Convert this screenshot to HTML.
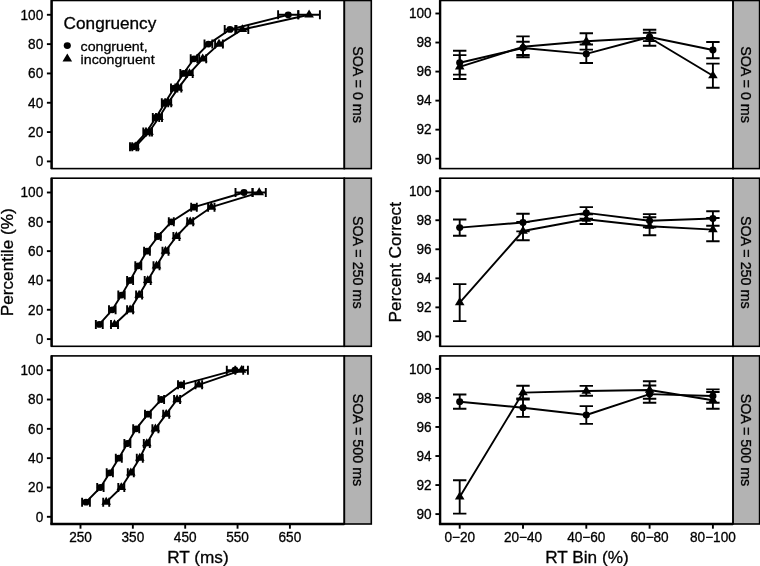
<!DOCTYPE html>
<html><head><meta charset="utf-8"><title>Congruency RT figure</title>
<style>
html,body{margin:0;padding:0;background:#fff;}
body{width:760px;height:566px;overflow:hidden;}
svg{display:block;font-family:"Liberation Sans", sans-serif;}
text{fill:#000;stroke:#000;stroke-width:0.3px;}
#w{filter:grayscale(100%);width:760px;height:566px;}
</style></head><body><div id="w">
<svg width="760" height="566" viewBox="0 0 760 566">
<rect x="0" y="0" width="760" height="566" fill="#fff"/>
<rect x="344.30" y="0.50" width="27.00" height="168.10" fill="#b3b3b3" stroke="#000" stroke-width="1.6"/>
<rect x="51.60" y="0.50" width="292.70" height="168.10" fill="none" stroke="#000" stroke-width="1.6"/>
<line x1="51.60" y1="0.10" x2="51.60" y2="169.00" stroke="#000" stroke-width="2.4"/>
<text transform="translate(352.80,84.55) rotate(90) scale(1,1.0)" font-size="14.3" text-anchor="middle">SOA = 0 ms</text>
<rect x="733.00" y="0.50" width="26.60" height="168.10" fill="#b3b3b3" stroke="#000" stroke-width="1.6"/>
<rect x="440.10" y="0.50" width="292.90" height="168.10" fill="none" stroke="#000" stroke-width="1.6"/>
<line x1="440.10" y1="0.10" x2="440.10" y2="169.00" stroke="#000" stroke-width="2.4"/>
<text transform="translate(741.30,84.55) rotate(90) scale(1,1.0)" font-size="14.3" text-anchor="middle">SOA = 0 ms</text>
<rect x="344.30" y="178.20" width="27.00" height="168.10" fill="#b3b3b3" stroke="#000" stroke-width="1.6"/>
<rect x="51.60" y="178.20" width="292.70" height="168.10" fill="none" stroke="#000" stroke-width="1.6"/>
<line x1="51.60" y1="177.80" x2="51.60" y2="346.70" stroke="#000" stroke-width="2.4"/>
<text transform="translate(352.80,262.25) rotate(90) scale(1,1.0)" font-size="14.3" text-anchor="middle">SOA = 250 ms</text>
<rect x="733.00" y="178.20" width="26.60" height="168.10" fill="#b3b3b3" stroke="#000" stroke-width="1.6"/>
<rect x="440.10" y="178.20" width="292.90" height="168.10" fill="none" stroke="#000" stroke-width="1.6"/>
<line x1="440.10" y1="177.80" x2="440.10" y2="346.70" stroke="#000" stroke-width="2.4"/>
<text transform="translate(741.30,262.25) rotate(90) scale(1,1.0)" font-size="14.3" text-anchor="middle">SOA = 250 ms</text>
<rect x="344.30" y="355.90" width="27.00" height="168.10" fill="#b3b3b3" stroke="#000" stroke-width="1.6"/>
<rect x="51.60" y="355.90" width="292.70" height="168.10" fill="none" stroke="#000" stroke-width="1.6"/>
<line x1="51.60" y1="355.50" x2="51.60" y2="524.40" stroke="#000" stroke-width="2.4"/>
<text transform="translate(352.80,439.95) rotate(90) scale(1,1.0)" font-size="14.3" text-anchor="middle">SOA = 500 ms</text>
<rect x="733.00" y="355.90" width="26.60" height="168.10" fill="#b3b3b3" stroke="#000" stroke-width="1.6"/>
<rect x="440.10" y="355.90" width="292.90" height="168.10" fill="none" stroke="#000" stroke-width="1.6"/>
<line x1="440.10" y1="355.50" x2="440.10" y2="524.40" stroke="#000" stroke-width="2.4"/>
<text transform="translate(741.30,439.95) rotate(90) scale(1,1.0)" font-size="14.3" text-anchor="middle">SOA = 500 ms</text>
<line x1="50.40" y1="524.00" x2="344.30" y2="524.00" stroke="#000" stroke-width="2.4"/>
<line x1="438.90" y1="524.00" x2="733.00" y2="524.00" stroke="#000" stroke-width="2.4"/>
<line x1="46.90" y1="161.40" x2="51.60" y2="161.40" stroke="#000" stroke-width="1.9"/>
<text transform="translate(43.20,166.20) scale(1,1.04)" font-size="13.6" text-anchor="end">0</text>
<line x1="46.90" y1="132.08" x2="51.60" y2="132.08" stroke="#000" stroke-width="1.9"/>
<text transform="translate(43.20,136.88) scale(1,1.04)" font-size="13.6" text-anchor="end">20</text>
<line x1="46.90" y1="102.76" x2="51.60" y2="102.76" stroke="#000" stroke-width="1.9"/>
<text transform="translate(43.20,107.56) scale(1,1.04)" font-size="13.6" text-anchor="end">40</text>
<line x1="46.90" y1="73.44" x2="51.60" y2="73.44" stroke="#000" stroke-width="1.9"/>
<text transform="translate(43.20,78.24) scale(1,1.04)" font-size="13.6" text-anchor="end">60</text>
<line x1="46.90" y1="44.12" x2="51.60" y2="44.12" stroke="#000" stroke-width="1.9"/>
<text transform="translate(43.20,48.92) scale(1,1.04)" font-size="13.6" text-anchor="end">80</text>
<line x1="46.90" y1="14.80" x2="51.60" y2="14.80" stroke="#000" stroke-width="1.9"/>
<text transform="translate(43.20,19.60) scale(1,1.04)" font-size="13.6" text-anchor="end">100</text>
<line x1="435.40" y1="158.70" x2="440.10" y2="158.70" stroke="#000" stroke-width="1.9"/>
<text transform="translate(431.60,163.50) scale(1,1.04)" font-size="13.6" text-anchor="end">90</text>
<line x1="435.40" y1="129.66" x2="440.10" y2="129.66" stroke="#000" stroke-width="1.9"/>
<text transform="translate(431.60,134.46) scale(1,1.04)" font-size="13.6" text-anchor="end">92</text>
<line x1="435.40" y1="100.62" x2="440.10" y2="100.62" stroke="#000" stroke-width="1.9"/>
<text transform="translate(431.60,105.42) scale(1,1.04)" font-size="13.6" text-anchor="end">94</text>
<line x1="435.40" y1="71.58" x2="440.10" y2="71.58" stroke="#000" stroke-width="1.9"/>
<text transform="translate(431.60,76.38) scale(1,1.04)" font-size="13.6" text-anchor="end">96</text>
<line x1="435.40" y1="42.54" x2="440.10" y2="42.54" stroke="#000" stroke-width="1.9"/>
<text transform="translate(431.60,47.34) scale(1,1.04)" font-size="13.6" text-anchor="end">98</text>
<line x1="435.40" y1="13.50" x2="440.10" y2="13.50" stroke="#000" stroke-width="1.9"/>
<text transform="translate(431.60,18.30) scale(1,1.04)" font-size="13.6" text-anchor="end">100</text>
<line x1="46.90" y1="339.10" x2="51.60" y2="339.10" stroke="#000" stroke-width="1.9"/>
<text transform="translate(43.20,343.90) scale(1,1.04)" font-size="13.6" text-anchor="end">0</text>
<line x1="46.90" y1="309.78" x2="51.60" y2="309.78" stroke="#000" stroke-width="1.9"/>
<text transform="translate(43.20,314.58) scale(1,1.04)" font-size="13.6" text-anchor="end">20</text>
<line x1="46.90" y1="280.46" x2="51.60" y2="280.46" stroke="#000" stroke-width="1.9"/>
<text transform="translate(43.20,285.26) scale(1,1.04)" font-size="13.6" text-anchor="end">40</text>
<line x1="46.90" y1="251.14" x2="51.60" y2="251.14" stroke="#000" stroke-width="1.9"/>
<text transform="translate(43.20,255.94) scale(1,1.04)" font-size="13.6" text-anchor="end">60</text>
<line x1="46.90" y1="221.82" x2="51.60" y2="221.82" stroke="#000" stroke-width="1.9"/>
<text transform="translate(43.20,226.62) scale(1,1.04)" font-size="13.6" text-anchor="end">80</text>
<line x1="46.90" y1="192.50" x2="51.60" y2="192.50" stroke="#000" stroke-width="1.9"/>
<text transform="translate(43.20,197.30) scale(1,1.04)" font-size="13.6" text-anchor="end">100</text>
<line x1="435.40" y1="336.40" x2="440.10" y2="336.40" stroke="#000" stroke-width="1.9"/>
<text transform="translate(431.60,341.20) scale(1,1.04)" font-size="13.6" text-anchor="end">90</text>
<line x1="435.40" y1="307.36" x2="440.10" y2="307.36" stroke="#000" stroke-width="1.9"/>
<text transform="translate(431.60,312.16) scale(1,1.04)" font-size="13.6" text-anchor="end">92</text>
<line x1="435.40" y1="278.32" x2="440.10" y2="278.32" stroke="#000" stroke-width="1.9"/>
<text transform="translate(431.60,283.12) scale(1,1.04)" font-size="13.6" text-anchor="end">94</text>
<line x1="435.40" y1="249.28" x2="440.10" y2="249.28" stroke="#000" stroke-width="1.9"/>
<text transform="translate(431.60,254.08) scale(1,1.04)" font-size="13.6" text-anchor="end">96</text>
<line x1="435.40" y1="220.24" x2="440.10" y2="220.24" stroke="#000" stroke-width="1.9"/>
<text transform="translate(431.60,225.04) scale(1,1.04)" font-size="13.6" text-anchor="end">98</text>
<line x1="435.40" y1="191.20" x2="440.10" y2="191.20" stroke="#000" stroke-width="1.9"/>
<text transform="translate(431.60,196.00) scale(1,1.04)" font-size="13.6" text-anchor="end">100</text>
<line x1="46.90" y1="516.80" x2="51.60" y2="516.80" stroke="#000" stroke-width="1.9"/>
<text transform="translate(43.20,521.60) scale(1,1.04)" font-size="13.6" text-anchor="end">0</text>
<line x1="46.90" y1="487.48" x2="51.60" y2="487.48" stroke="#000" stroke-width="1.9"/>
<text transform="translate(43.20,492.28) scale(1,1.04)" font-size="13.6" text-anchor="end">20</text>
<line x1="46.90" y1="458.16" x2="51.60" y2="458.16" stroke="#000" stroke-width="1.9"/>
<text transform="translate(43.20,462.96) scale(1,1.04)" font-size="13.6" text-anchor="end">40</text>
<line x1="46.90" y1="428.84" x2="51.60" y2="428.84" stroke="#000" stroke-width="1.9"/>
<text transform="translate(43.20,433.64) scale(1,1.04)" font-size="13.6" text-anchor="end">60</text>
<line x1="46.90" y1="399.52" x2="51.60" y2="399.52" stroke="#000" stroke-width="1.9"/>
<text transform="translate(43.20,404.32) scale(1,1.04)" font-size="13.6" text-anchor="end">80</text>
<line x1="46.90" y1="370.20" x2="51.60" y2="370.20" stroke="#000" stroke-width="1.9"/>
<text transform="translate(43.20,375.00) scale(1,1.04)" font-size="13.6" text-anchor="end">100</text>
<line x1="435.40" y1="514.10" x2="440.10" y2="514.10" stroke="#000" stroke-width="1.9"/>
<text transform="translate(431.60,518.90) scale(1,1.04)" font-size="13.6" text-anchor="end">90</text>
<line x1="435.40" y1="485.06" x2="440.10" y2="485.06" stroke="#000" stroke-width="1.9"/>
<text transform="translate(431.60,489.86) scale(1,1.04)" font-size="13.6" text-anchor="end">92</text>
<line x1="435.40" y1="456.02" x2="440.10" y2="456.02" stroke="#000" stroke-width="1.9"/>
<text transform="translate(431.60,460.82) scale(1,1.04)" font-size="13.6" text-anchor="end">94</text>
<line x1="435.40" y1="426.98" x2="440.10" y2="426.98" stroke="#000" stroke-width="1.9"/>
<text transform="translate(431.60,431.78) scale(1,1.04)" font-size="13.6" text-anchor="end">96</text>
<line x1="435.40" y1="397.94" x2="440.10" y2="397.94" stroke="#000" stroke-width="1.9"/>
<text transform="translate(431.60,402.74) scale(1,1.04)" font-size="13.6" text-anchor="end">98</text>
<line x1="435.40" y1="368.90" x2="440.10" y2="368.90" stroke="#000" stroke-width="1.9"/>
<text transform="translate(431.60,373.70) scale(1,1.04)" font-size="13.6" text-anchor="end">100</text>
<line x1="80.50" y1="524.00" x2="80.50" y2="528.70" stroke="#000" stroke-width="1.9"/>
<text transform="translate(80.50,542.30) scale(1,1.04)" font-size="13.6" text-anchor="middle">250</text>
<line x1="132.85" y1="524.00" x2="132.85" y2="528.70" stroke="#000" stroke-width="1.9"/>
<text transform="translate(132.85,542.30) scale(1,1.04)" font-size="13.6" text-anchor="middle">350</text>
<line x1="185.20" y1="524.00" x2="185.20" y2="528.70" stroke="#000" stroke-width="1.9"/>
<text transform="translate(185.20,542.30) scale(1,1.04)" font-size="13.6" text-anchor="middle">450</text>
<line x1="237.55" y1="524.00" x2="237.55" y2="528.70" stroke="#000" stroke-width="1.9"/>
<text transform="translate(237.55,542.30) scale(1,1.04)" font-size="13.6" text-anchor="middle">550</text>
<line x1="289.90" y1="524.00" x2="289.90" y2="528.70" stroke="#000" stroke-width="1.9"/>
<text transform="translate(289.90,542.30) scale(1,1.04)" font-size="13.6" text-anchor="middle">650</text>
<line x1="459.70" y1="524.00" x2="459.70" y2="528.70" stroke="#000" stroke-width="1.9"/>
<text transform="translate(459.70,542.30) scale(1,1.04)" font-size="13.6" text-anchor="middle">0−20</text>
<line x1="523.00" y1="524.00" x2="523.00" y2="528.70" stroke="#000" stroke-width="1.9"/>
<text transform="translate(523.00,542.30) scale(1,1.04)" font-size="13.6" text-anchor="middle">20−40</text>
<line x1="586.30" y1="524.00" x2="586.30" y2="528.70" stroke="#000" stroke-width="1.9"/>
<text transform="translate(586.30,542.30) scale(1,1.04)" font-size="13.6" text-anchor="middle">40−60</text>
<line x1="649.60" y1="524.00" x2="649.60" y2="528.70" stroke="#000" stroke-width="1.9"/>
<text transform="translate(649.60,542.30) scale(1,1.04)" font-size="13.6" text-anchor="middle">60−80</text>
<line x1="712.90" y1="524.00" x2="712.90" y2="528.70" stroke="#000" stroke-width="1.9"/>
<text transform="translate(712.90,542.30) scale(1,1.04)" font-size="13.6" text-anchor="middle">80−100</text>
<text transform="translate(197.95,562.50) scale(1,1.0)" font-size="17.2" text-anchor="middle">RT (ms)</text>
<text transform="translate(586.95,562.50) scale(1,1.0)" font-size="17.2" text-anchor="middle">RT Bin (%)</text>
<text transform="translate(12.60,262.25) rotate(-90) scale(1,1.0)" font-size="17.2" text-anchor="middle">Percentile (%)</text>
<text transform="translate(401.00,262.25) rotate(-90) scale(1,1.0)" font-size="17.2" text-anchor="middle">Percent Correct</text>
<polyline fill="none" stroke="#000" stroke-width="1.90" stroke-linejoin="round" points="133.20,146.74 146.50,132.08 156.00,117.42 165.00,102.76 174.20,88.10 183.50,73.44 194.00,58.78 208.40,44.12 230.00,29.46 288.20,14.80"/>
<polyline fill="none" stroke="#000" stroke-width="1.90" stroke-linejoin="round" points="135.20,146.74 149.00,132.08 159.00,117.42 168.20,102.76 178.30,88.10 189.50,73.44 202.70,58.78 219.00,44.12 242.40,29.46 309.10,14.80"/>
<path d="M130.00,146.74H136.40M130.00,142.24V151.24M136.40,142.24V151.24" stroke="#000" stroke-width="1.9" fill="none"/>
<path d="M143.30,132.08H149.70M143.30,127.58V136.58M149.70,127.58V136.58" stroke="#000" stroke-width="1.9" fill="none"/>
<path d="M152.80,117.42H159.20M152.80,112.92V121.92M159.20,112.92V121.92" stroke="#000" stroke-width="1.9" fill="none"/>
<path d="M161.80,102.76H168.20M161.80,98.26V107.26M168.20,98.26V107.26" stroke="#000" stroke-width="1.9" fill="none"/>
<path d="M171.00,88.10H177.40M171.00,83.60V92.60M177.40,83.60V92.60" stroke="#000" stroke-width="1.9" fill="none"/>
<path d="M180.30,73.44H186.70M180.30,68.94V77.94M186.70,68.94V77.94" stroke="#000" stroke-width="1.9" fill="none"/>
<path d="M190.70,58.78H197.30M190.70,54.28V63.28M197.30,54.28V63.28" stroke="#000" stroke-width="1.9" fill="none"/>
<path d="M204.50,44.12H212.30M204.50,39.62V48.62M212.30,39.62V48.62" stroke="#000" stroke-width="1.9" fill="none"/>
<path d="M224.70,29.46H235.30M224.70,24.96V33.96M235.30,24.96V33.96" stroke="#000" stroke-width="1.9" fill="none"/>
<path d="M278.10,14.80H298.30M278.10,10.30V19.30M298.30,10.30V19.30" stroke="#000" stroke-width="1.9" fill="none"/>
<path d="M132.20,146.74H138.20M132.20,142.24V151.24M138.20,142.24V151.24" stroke="#000" stroke-width="1.9" fill="none"/>
<path d="M146.00,132.08H152.00M146.00,127.58V136.58M152.00,127.58V136.58" stroke="#000" stroke-width="1.9" fill="none"/>
<path d="M156.00,117.42H162.00M156.00,112.92V121.92M162.00,112.92V121.92" stroke="#000" stroke-width="1.9" fill="none"/>
<path d="M165.20,102.76H171.20M165.20,98.26V107.26M171.20,98.26V107.26" stroke="#000" stroke-width="1.9" fill="none"/>
<path d="M175.30,88.10H181.30M175.30,83.60V92.60M181.30,83.60V92.60" stroke="#000" stroke-width="1.9" fill="none"/>
<path d="M186.30,73.44H192.70M186.30,68.94V77.94M192.70,68.94V77.94" stroke="#000" stroke-width="1.9" fill="none"/>
<path d="M199.20,58.78H206.20M199.20,54.28V63.28M206.20,54.28V63.28" stroke="#000" stroke-width="1.9" fill="none"/>
<path d="M215.10,44.12H222.90M215.10,39.62V48.62M222.90,39.62V48.62" stroke="#000" stroke-width="1.9" fill="none"/>
<path d="M236.50,29.46H248.30M236.50,24.96V33.96M248.30,24.96V33.96" stroke="#000" stroke-width="1.9" fill="none"/>
<path d="M298.30,14.80H319.90M298.30,10.30V19.30M319.90,10.30V19.30" stroke="#000" stroke-width="1.9" fill="none"/>
<ellipse cx="133.20" cy="146.74" rx="3.57" ry="3.40"/>
<ellipse cx="146.50" cy="132.08" rx="3.57" ry="3.40"/>
<ellipse cx="156.00" cy="117.42" rx="3.57" ry="3.40"/>
<ellipse cx="165.00" cy="102.76" rx="3.57" ry="3.40"/>
<ellipse cx="174.20" cy="88.10" rx="3.57" ry="3.40"/>
<ellipse cx="183.50" cy="73.44" rx="3.57" ry="3.40"/>
<ellipse cx="194.00" cy="58.78" rx="3.57" ry="3.40"/>
<ellipse cx="208.40" cy="44.12" rx="3.57" ry="3.40"/>
<ellipse cx="230.00" cy="29.46" rx="3.57" ry="3.40"/>
<ellipse cx="288.20" cy="14.80" rx="3.57" ry="3.40"/>
<polygon points="135.20,141.45 140.01,149.38 130.39,149.38"/>
<polygon points="149.00,126.79 153.81,134.72 144.19,134.72"/>
<polygon points="159.00,112.13 163.81,120.06 154.19,120.06"/>
<polygon points="168.20,97.47 173.01,105.40 163.39,105.40"/>
<polygon points="178.30,82.81 183.11,90.74 173.49,90.74"/>
<polygon points="189.50,68.15 194.31,76.08 184.69,76.08"/>
<polygon points="202.70,53.49 207.51,61.42 197.89,61.42"/>
<polygon points="219.00,38.83 223.81,46.76 214.19,46.76"/>
<polygon points="242.40,24.17 247.21,32.10 237.59,32.10"/>
<polygon points="309.10,9.51 313.91,17.44 304.29,17.44"/>
<polyline fill="none" stroke="#000" stroke-width="1.90" stroke-linejoin="round" points="99.30,324.44 112.30,309.78 121.50,295.12 130.10,280.46 138.30,265.80 147.00,251.14 158.00,236.48 171.30,221.82 194.00,207.16 244.00,192.50"/>
<polyline fill="none" stroke="#000" stroke-width="1.90" stroke-linejoin="round" points="114.50,324.44 130.10,309.78 139.10,295.12 147.70,280.46 156.50,265.80 165.50,251.14 176.40,236.48 190.20,221.82 211.30,207.16 259.20,192.50"/>
<path d="M95.85,324.44H102.75M95.85,319.94V328.94M102.75,319.94V328.94" stroke="#000" stroke-width="1.9" fill="none"/>
<path d="M109.00,309.78H115.60M109.00,305.28V314.28M115.60,305.28V314.28" stroke="#000" stroke-width="1.9" fill="none"/>
<path d="M118.30,295.12H124.70M118.30,290.62V299.62M124.70,290.62V299.62" stroke="#000" stroke-width="1.9" fill="none"/>
<path d="M127.10,280.46H133.10M127.10,275.96V284.96M133.10,275.96V284.96" stroke="#000" stroke-width="1.9" fill="none"/>
<path d="M135.30,265.80H141.30M135.30,261.30V270.30M141.30,261.30V270.30" stroke="#000" stroke-width="1.9" fill="none"/>
<path d="M144.10,251.14H149.90M144.10,246.64V255.64M149.90,246.64V255.64" stroke="#000" stroke-width="1.9" fill="none"/>
<path d="M155.20,236.48H160.80M155.20,231.98V240.98M160.80,231.98V240.98" stroke="#000" stroke-width="1.9" fill="none"/>
<path d="M168.80,221.82H173.80M168.80,217.32V226.32M173.80,217.32V226.32" stroke="#000" stroke-width="1.9" fill="none"/>
<path d="M191.20,207.16H196.80M191.20,202.66V211.66M196.80,202.66V211.66" stroke="#000" stroke-width="1.9" fill="none"/>
<path d="M235.50,192.50H252.50M235.50,188.00V197.00M252.50,188.00V197.00" stroke="#000" stroke-width="1.9" fill="none"/>
<path d="M111.00,324.44H118.00M111.00,319.94V328.94M118.00,319.94V328.94" stroke="#000" stroke-width="1.9" fill="none"/>
<path d="M127.10,309.78H133.10M127.10,305.28V314.28M133.10,305.28V314.28" stroke="#000" stroke-width="1.9" fill="none"/>
<path d="M136.10,295.12H142.10M136.10,290.62V299.62M142.10,290.62V299.62" stroke="#000" stroke-width="1.9" fill="none"/>
<path d="M144.70,280.46H150.70M144.70,275.96V284.96M150.70,275.96V284.96" stroke="#000" stroke-width="1.9" fill="none"/>
<path d="M153.50,265.80H159.50M153.50,261.30V270.30M159.50,261.30V270.30" stroke="#000" stroke-width="1.9" fill="none"/>
<path d="M162.50,251.14H168.50M162.50,246.64V255.64M168.50,246.64V255.64" stroke="#000" stroke-width="1.9" fill="none"/>
<path d="M173.40,236.48H179.40M173.40,231.98V240.98M179.40,231.98V240.98" stroke="#000" stroke-width="1.9" fill="none"/>
<path d="M187.20,221.82H193.20M187.20,217.32V226.32M193.20,217.32V226.32" stroke="#000" stroke-width="1.9" fill="none"/>
<path d="M208.10,207.16H214.50M208.10,202.66V211.66M214.50,202.66V211.66" stroke="#000" stroke-width="1.9" fill="none"/>
<path d="M252.60,192.50H265.80M252.60,188.00V197.00M265.80,188.00V197.00" stroke="#000" stroke-width="1.9" fill="none"/>
<ellipse cx="99.30" cy="324.44" rx="3.57" ry="3.40"/>
<ellipse cx="112.30" cy="309.78" rx="3.57" ry="3.40"/>
<ellipse cx="121.50" cy="295.12" rx="3.57" ry="3.40"/>
<ellipse cx="130.10" cy="280.46" rx="3.57" ry="3.40"/>
<ellipse cx="138.30" cy="265.80" rx="3.57" ry="3.40"/>
<ellipse cx="147.00" cy="251.14" rx="3.57" ry="3.40"/>
<ellipse cx="158.00" cy="236.48" rx="3.57" ry="3.40"/>
<ellipse cx="171.30" cy="221.82" rx="3.57" ry="3.40"/>
<ellipse cx="194.00" cy="207.16" rx="3.57" ry="3.40"/>
<ellipse cx="244.00" cy="192.50" rx="3.57" ry="3.40"/>
<polygon points="114.50,319.15 119.31,327.08 109.69,327.08"/>
<polygon points="130.10,304.49 134.91,312.42 125.29,312.42"/>
<polygon points="139.10,289.83 143.91,297.76 134.29,297.76"/>
<polygon points="147.70,275.17 152.51,283.10 142.89,283.10"/>
<polygon points="156.50,260.51 161.31,268.44 151.69,268.44"/>
<polygon points="165.50,245.85 170.31,253.78 160.69,253.78"/>
<polygon points="176.40,231.19 181.21,239.12 171.59,239.12"/>
<polygon points="190.20,216.53 195.01,224.46 185.39,224.46"/>
<polygon points="211.30,201.87 216.11,209.80 206.49,209.80"/>
<polygon points="259.20,187.21 264.01,195.14 254.39,195.14"/>
<polyline fill="none" stroke="#000" stroke-width="1.90" stroke-linejoin="round" points="86.00,502.14 100.40,487.48 109.80,472.82 118.80,458.16 127.40,443.50 136.20,428.84 147.90,414.18 161.30,399.52 181.00,384.86 235.00,370.20"/>
<polyline fill="none" stroke="#000" stroke-width="1.90" stroke-linejoin="round" points="106.20,502.14 121.30,487.48 130.80,472.82 139.80,458.16 146.80,443.50 155.40,428.84 166.20,414.18 177.10,399.52 198.80,384.86 241.60,370.20"/>
<path d="M82.10,502.14H89.90M82.10,497.64V506.64M89.90,497.64V506.64" stroke="#000" stroke-width="1.9" fill="none"/>
<path d="M97.20,487.48H103.60M97.20,482.98V491.98M103.60,482.98V491.98" stroke="#000" stroke-width="1.9" fill="none"/>
<path d="M106.70,472.82H112.90M106.70,468.32V477.32M112.90,468.32V477.32" stroke="#000" stroke-width="1.9" fill="none"/>
<path d="M115.80,458.16H121.80M115.80,453.66V462.66M121.80,453.66V462.66" stroke="#000" stroke-width="1.9" fill="none"/>
<path d="M124.40,443.50H130.40M124.40,439.00V448.00M130.40,439.00V448.00" stroke="#000" stroke-width="1.9" fill="none"/>
<path d="M133.20,428.84H139.20M133.20,424.34V433.34M139.20,424.34V433.34" stroke="#000" stroke-width="1.9" fill="none"/>
<path d="M145.00,414.18H150.80M145.00,409.68V418.68M150.80,409.68V418.68" stroke="#000" stroke-width="1.9" fill="none"/>
<path d="M158.50,399.52H164.10M158.50,395.02V404.02M164.10,395.02V404.02" stroke="#000" stroke-width="1.9" fill="none"/>
<path d="M178.00,384.86H184.00M178.00,380.36V389.36M184.00,380.36V389.36" stroke="#000" stroke-width="1.9" fill="none"/>
<path d="M226.80,370.20H243.20M226.80,365.70V374.70M243.20,365.70V374.70" stroke="#000" stroke-width="1.9" fill="none"/>
<path d="M103.20,502.14H109.20M103.20,497.64V506.64M109.20,497.64V506.64" stroke="#000" stroke-width="1.9" fill="none"/>
<path d="M118.30,487.48H124.30M118.30,482.98V491.98M124.30,482.98V491.98" stroke="#000" stroke-width="1.9" fill="none"/>
<path d="M127.80,472.82H133.80M127.80,468.32V477.32M133.80,468.32V477.32" stroke="#000" stroke-width="1.9" fill="none"/>
<path d="M136.80,458.16H142.80M136.80,453.66V462.66M142.80,453.66V462.66" stroke="#000" stroke-width="1.9" fill="none"/>
<path d="M143.80,443.50H149.80M143.80,439.00V448.00M149.80,439.00V448.00" stroke="#000" stroke-width="1.9" fill="none"/>
<path d="M152.40,428.84H158.40M152.40,424.34V433.34M158.40,424.34V433.34" stroke="#000" stroke-width="1.9" fill="none"/>
<path d="M163.20,414.18H169.20M163.20,409.68V418.68M169.20,409.68V418.68" stroke="#000" stroke-width="1.9" fill="none"/>
<path d="M174.10,399.52H180.10M174.10,395.02V404.02M180.10,395.02V404.02" stroke="#000" stroke-width="1.9" fill="none"/>
<path d="M195.50,384.86H202.10M195.50,380.36V389.36M202.10,380.36V389.36" stroke="#000" stroke-width="1.9" fill="none"/>
<path d="M235.30,370.20H247.90M235.30,365.70V374.70M247.90,365.70V374.70" stroke="#000" stroke-width="1.9" fill="none"/>
<ellipse cx="86.00" cy="502.14" rx="3.57" ry="3.40"/>
<ellipse cx="100.40" cy="487.48" rx="3.57" ry="3.40"/>
<ellipse cx="109.80" cy="472.82" rx="3.57" ry="3.40"/>
<ellipse cx="118.80" cy="458.16" rx="3.57" ry="3.40"/>
<ellipse cx="127.40" cy="443.50" rx="3.57" ry="3.40"/>
<ellipse cx="136.20" cy="428.84" rx="3.57" ry="3.40"/>
<ellipse cx="147.90" cy="414.18" rx="3.57" ry="3.40"/>
<ellipse cx="161.30" cy="399.52" rx="3.57" ry="3.40"/>
<ellipse cx="181.00" cy="384.86" rx="3.57" ry="3.40"/>
<ellipse cx="235.00" cy="370.20" rx="3.57" ry="3.40"/>
<polygon points="106.20,496.85 111.01,504.78 101.39,504.78"/>
<polygon points="121.30,482.19 126.11,490.12 116.49,490.12"/>
<polygon points="130.80,467.53 135.61,475.46 125.99,475.46"/>
<polygon points="139.80,452.87 144.61,460.80 134.99,460.80"/>
<polygon points="146.80,438.21 151.61,446.14 141.99,446.14"/>
<polygon points="155.40,423.55 160.21,431.48 150.59,431.48"/>
<polygon points="166.20,408.89 171.01,416.82 161.39,416.82"/>
<polygon points="177.10,394.23 181.91,402.16 172.29,402.16"/>
<polygon points="198.80,379.57 203.61,387.50 193.99,387.50"/>
<polygon points="241.60,364.91 246.41,372.84 236.79,372.84"/>
<polyline fill="none" stroke="#000" stroke-width="1.90" stroke-linejoin="round" points="459.70,62.70 523.00,48.00 586.30,53.90 649.60,37.00 712.90,50.00"/>
<polyline fill="none" stroke="#000" stroke-width="1.90" stroke-linejoin="round" points="459.70,66.80 523.00,46.80 586.30,41.30 649.60,37.80 712.90,75.70"/>
<path d="M459.70,50.70V74.60M453.00,50.70H466.40M453.00,74.60H466.40" stroke="#000" stroke-width="1.9" fill="none"/>
<path d="M523.00,41.70V55.00M516.30,41.70H529.70M516.30,55.00H529.70" stroke="#000" stroke-width="1.9" fill="none"/>
<path d="M586.30,44.50V63.00M579.60,44.50H593.00M579.60,63.00H593.00" stroke="#000" stroke-width="1.9" fill="none"/>
<path d="M649.60,32.70V41.10M642.90,32.70H656.30M642.90,41.10H656.30" stroke="#000" stroke-width="1.9" fill="none"/>
<path d="M712.90,42.00V58.20M706.20,42.00H719.60M706.20,58.20H719.60" stroke="#000" stroke-width="1.9" fill="none"/>
<path d="M459.70,55.10V79.00M453.00,55.10H466.40M453.00,79.00H466.40" stroke="#000" stroke-width="1.9" fill="none"/>
<path d="M523.00,36.40V57.20M516.30,36.40H529.70M516.30,57.20H529.70" stroke="#000" stroke-width="1.9" fill="none"/>
<path d="M586.30,33.20V49.60M579.60,33.20H593.00M579.60,49.60H593.00" stroke="#000" stroke-width="1.9" fill="none"/>
<path d="M649.60,29.80V45.80M642.90,29.80H656.30M642.90,45.80H656.30" stroke="#000" stroke-width="1.9" fill="none"/>
<path d="M712.90,63.60V87.80M706.20,63.60H719.60M706.20,87.80H719.60" stroke="#000" stroke-width="1.9" fill="none"/>
<ellipse cx="459.70" cy="62.70" rx="3.57" ry="3.40"/>
<ellipse cx="523.00" cy="48.00" rx="3.57" ry="3.40"/>
<ellipse cx="586.30" cy="53.90" rx="3.57" ry="3.40"/>
<ellipse cx="649.60" cy="37.00" rx="3.57" ry="3.40"/>
<ellipse cx="712.90" cy="50.00" rx="3.57" ry="3.40"/>
<polygon points="459.70,61.51 464.51,69.44 454.89,69.44"/>
<polygon points="523.00,41.51 527.81,49.44 518.19,49.44"/>
<polygon points="586.30,36.01 591.11,43.94 581.49,43.94"/>
<polygon points="649.60,32.51 654.41,40.44 644.79,40.44"/>
<polygon points="712.90,70.41 717.71,78.34 708.09,78.34"/>
<polyline fill="none" stroke="#000" stroke-width="1.90" stroke-linejoin="round" points="459.70,227.60 523.00,222.50 586.30,212.90 649.60,220.80 712.90,218.50"/>
<polyline fill="none" stroke="#000" stroke-width="1.90" stroke-linejoin="round" points="459.70,302.60 523.00,231.00 586.30,219.20 649.60,226.20 712.90,229.60"/>
<path d="M459.70,219.50V235.80M453.00,219.50H466.40M453.00,235.80H466.40" stroke="#000" stroke-width="1.9" fill="none"/>
<path d="M523.00,213.70V231.40M516.30,213.70H529.70M516.30,231.40H529.70" stroke="#000" stroke-width="1.9" fill="none"/>
<path d="M586.30,207.10V218.70M579.60,207.10H593.00M579.60,218.70H593.00" stroke="#000" stroke-width="1.9" fill="none"/>
<path d="M649.60,214.10V227.30M642.90,214.10H656.30M642.90,227.30H656.30" stroke="#000" stroke-width="1.9" fill="none"/>
<path d="M712.90,211.20V225.80M706.20,211.20H719.60M706.20,225.80H719.60" stroke="#000" stroke-width="1.9" fill="none"/>
<path d="M459.70,284.10V321.10M453.00,284.10H466.40M453.00,321.10H466.40" stroke="#000" stroke-width="1.9" fill="none"/>
<path d="M523.00,221.90V240.20M516.30,221.90H529.70M516.30,240.20H529.70" stroke="#000" stroke-width="1.9" fill="none"/>
<path d="M586.30,214.40V224.00M579.60,214.40H593.00M579.60,224.00H593.00" stroke="#000" stroke-width="1.9" fill="none"/>
<path d="M649.60,217.20V235.20M642.90,217.20H656.30M642.90,235.20H656.30" stroke="#000" stroke-width="1.9" fill="none"/>
<path d="M712.90,218.00V241.20M706.20,218.00H719.60M706.20,241.20H719.60" stroke="#000" stroke-width="1.9" fill="none"/>
<ellipse cx="459.70" cy="227.60" rx="3.57" ry="3.40"/>
<ellipse cx="523.00" cy="222.50" rx="3.57" ry="3.40"/>
<ellipse cx="586.30" cy="212.90" rx="3.57" ry="3.40"/>
<ellipse cx="649.60" cy="220.80" rx="3.57" ry="3.40"/>
<ellipse cx="712.90" cy="218.50" rx="3.57" ry="3.40"/>
<polygon points="459.70,297.31 464.51,305.24 454.89,305.24"/>
<polygon points="523.00,225.71 527.81,233.64 518.19,233.64"/>
<polygon points="586.30,213.91 591.11,221.84 581.49,221.84"/>
<polygon points="649.60,220.91 654.41,228.84 644.79,228.84"/>
<polygon points="712.90,224.31 717.71,232.24 708.09,232.24"/>
<polyline fill="none" stroke="#000" stroke-width="1.90" stroke-linejoin="round" points="459.70,401.70 523.00,407.70 586.30,415.00 649.60,394.10 712.90,396.00"/>
<polyline fill="none" stroke="#000" stroke-width="1.90" stroke-linejoin="round" points="459.70,496.90 523.00,392.60 586.30,391.00 649.60,390.00 712.90,400.30"/>
<path d="M459.70,394.50V408.80M453.00,394.50H466.40M453.00,408.80H466.40" stroke="#000" stroke-width="1.9" fill="none"/>
<path d="M523.00,398.50V416.90M516.30,398.50H529.70M516.30,416.90H529.70" stroke="#000" stroke-width="1.9" fill="none"/>
<path d="M586.30,406.10V423.90M579.60,406.10H593.00M579.60,423.90H593.00" stroke="#000" stroke-width="1.9" fill="none"/>
<path d="M649.60,385.50V402.70M642.90,385.50H656.30M642.90,402.70H656.30" stroke="#000" stroke-width="1.9" fill="none"/>
<path d="M712.90,389.40V402.70M706.20,389.40H719.60M706.20,402.70H719.60" stroke="#000" stroke-width="1.9" fill="none"/>
<path d="M459.70,480.20V513.60M453.00,480.20H466.40M453.00,513.60H466.40" stroke="#000" stroke-width="1.9" fill="none"/>
<path d="M523.00,385.70V399.50M516.30,385.70H529.70M516.30,399.50H529.70" stroke="#000" stroke-width="1.9" fill="none"/>
<path d="M586.30,385.90V395.80M579.60,385.90H593.00M579.60,395.80H593.00" stroke="#000" stroke-width="1.9" fill="none"/>
<path d="M649.60,381.20V398.80M642.90,381.20H656.30M642.90,398.80H656.30" stroke="#000" stroke-width="1.9" fill="none"/>
<path d="M712.90,392.00V408.70M706.20,392.00H719.60M706.20,408.70H719.60" stroke="#000" stroke-width="1.9" fill="none"/>
<ellipse cx="459.70" cy="401.70" rx="3.57" ry="3.40"/>
<ellipse cx="523.00" cy="407.70" rx="3.57" ry="3.40"/>
<ellipse cx="586.30" cy="415.00" rx="3.57" ry="3.40"/>
<ellipse cx="649.60" cy="394.10" rx="3.57" ry="3.40"/>
<ellipse cx="712.90" cy="396.00" rx="3.57" ry="3.40"/>
<polygon points="459.70,491.61 464.51,499.54 454.89,499.54"/>
<polygon points="523.00,387.31 527.81,395.24 518.19,395.24"/>
<polygon points="586.30,385.71 591.11,393.64 581.49,393.64"/>
<polygon points="649.60,384.71 654.41,392.64 644.79,392.64"/>
<polygon points="712.90,395.01 717.71,402.94 708.09,402.94"/>
<text transform="translate(63.60,28.60) scale(1,0.97)" font-size="17.2">Congruency</text>
<ellipse cx="67.30" cy="45.60" rx="3.57" ry="3.40"/>
<polygon points="67.30,53.51 72.11,61.44 62.49,61.44"/>
<text transform="translate(80.60,50.60) scale(1,0.95)" font-size="14.2">congruent,</text>
<text transform="translate(80.60,64.00) scale(1,0.95)" font-size="14.2">incongruent</text>
</svg>
</div></body></html>
